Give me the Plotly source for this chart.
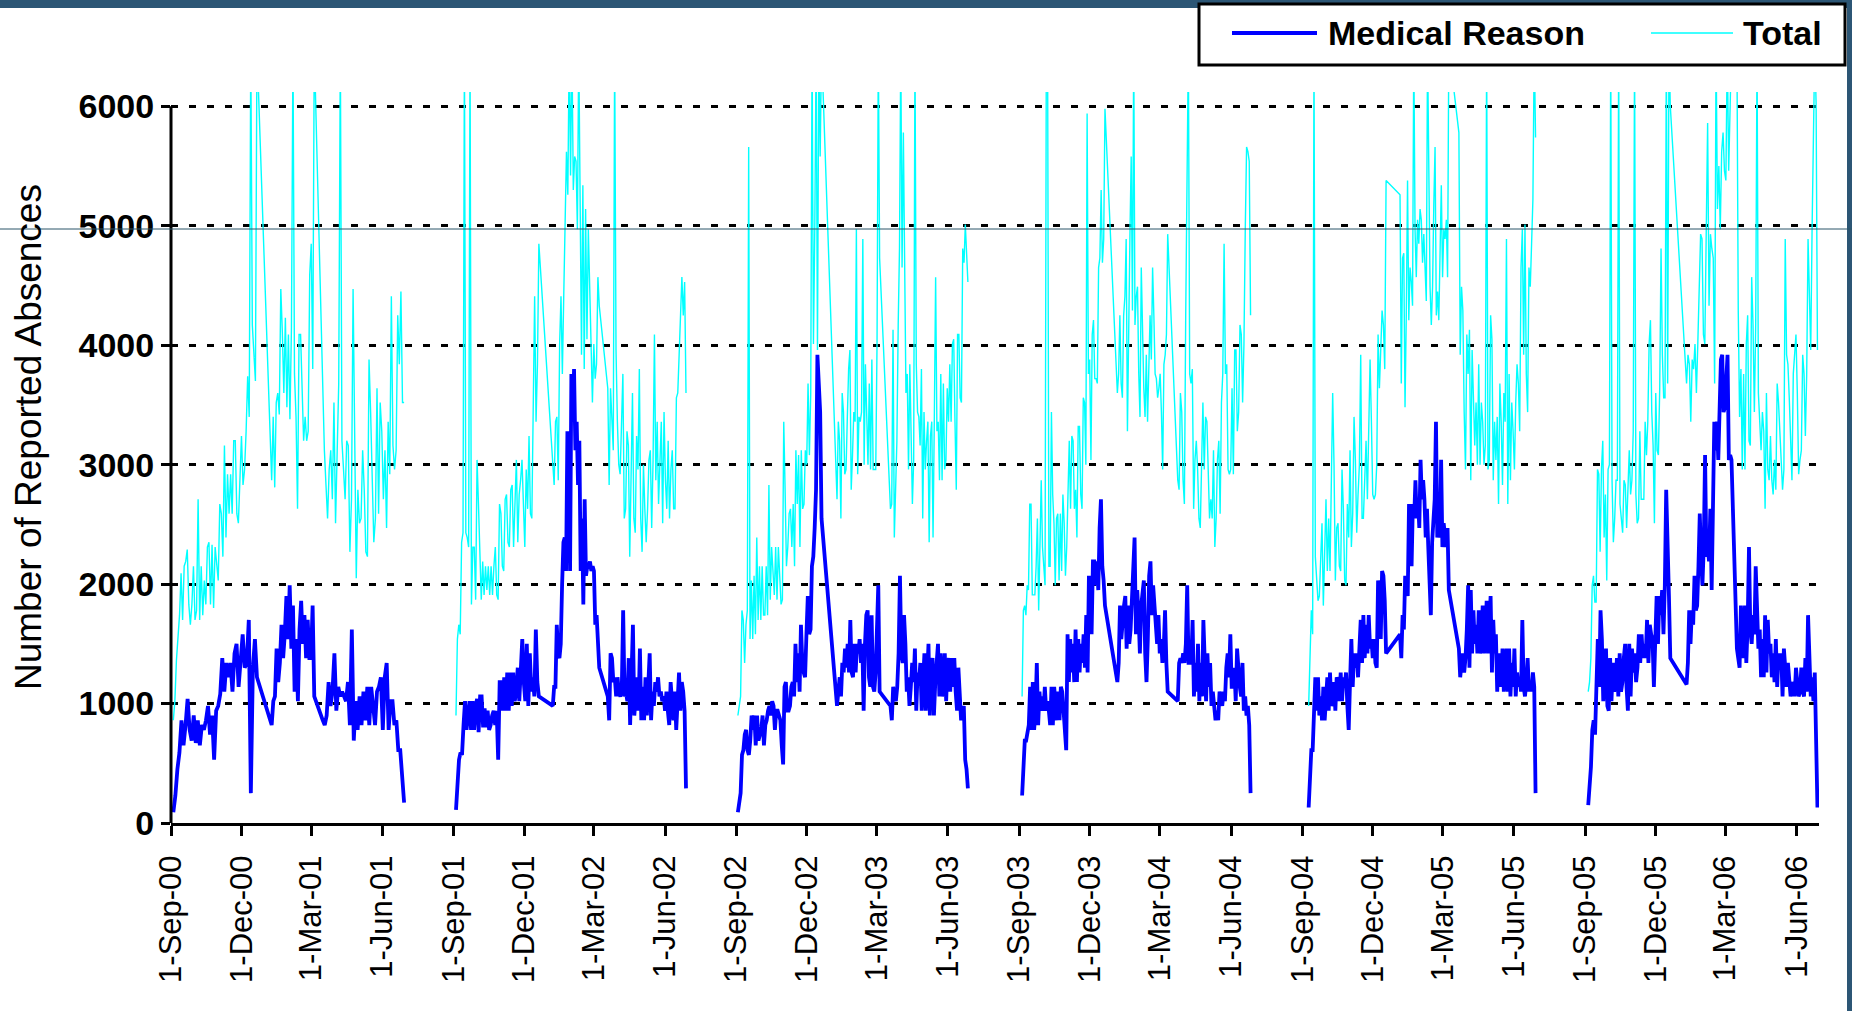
import pandas as pd
import plotly.graph_objects as go

# ---------------- data ----------------
# school-term date ranges (daily values spread over each term)
terms_2000 = [("2000-09-04", "2000-12-21"), ("2001-01-09", "2001-03-05"), ("2001-03-16", "2001-06-29")]
terms_2001 = [("2001-09-04", "2001-12-20"), ("2002-01-07", "2002-03-08"), ("2002-03-19", "2002-06-28")]
terms_2002 = [("2002-09-03", "2002-12-20"), ("2003-01-09", "2003-03-05"), ("2003-03-19", "2003-06-27")]
terms_2003 = [("2003-09-05", "2003-12-21"), ("2004-01-06", "2004-03-11"), ("2004-03-24", "2004-06-26")]
terms_2004 = [("2004-09-09", "2004-12-18"), ("2005-01-05", "2005-03-09"), ("2005-03-22", "2005-06-29")]
terms_2005 = [("2005-09-05", "2005-12-20"), ("2006-01-10", "2006-03-09"), ("2006-03-16", "2006-06-28")]

med_2000 = [
    [90,230,450,590,860,650,820,1040,780,690,900,670,860,650,820,780,860,980,740,900,530,940,980,1080,1380,1100,1340,1220,1340,1100,1420,1500,1140,1420,1580,1300,1340,1700,250,1300,1540,1220],
    [820,1020,1060,1460,1180,1340,1660,1380,1580,1900,1540,1990,1460,1820,1100,1540,1020,1620,1860,1500,1740,1380,1700,1380,1380,1820,1060],
    [860,820,900,1180,980,1100,1420,940,1140,1060,1100,1060,1020,1180,820,1620,690,1020,780,1060,820,1100,860,1140,820,1140,980,820,1100,1140,1220,780,1220,1340,780,1020,1020,820,860,610,610,330,170],
]
tot_2000 = [
    [860,1020,1360,1540,1740,2090,1700,2150,2190,2290,1830,1660,1830,2150,1700,1780,2710,1700,2150,1740,2030,1830,2310,2350,1830,2330,1800,2310,2190,2030,2670,2590,2230,3160,2390,2920,2590,2920,2590,3200,3200,2590,2510,2830,3240,2830,2960,3280,3740,3400,6500,4170,3960,3700,6500],
    [2870,3400,2810,3520,3600,3420,4470,4110,3600,4230,3480,4090,3380,4150,6500,3760,3400,2630,4090,4090,3520,3200,3400,3200,3280,4590,4850,3800,6500],
    [3560,3120,2830,2550,2960,3120,2710,3520,2510,3160,3680,6500,3200,2960,2710,3200,3160,2270,2710,4470,2960,2050,2790,2510,2550,3120,2790,2270,2230,3880,3440,2830,2350,2550,3640,2590,3520,3280,2710,3120,2470,3360,2920,4410,3160,2960,3120,4250,3840,4450,3520,3520],
]
med_2001 = [
    [110,410,530,590,570,820,1020,780,940,1020,780,1020,780,980,1040,760,1060,1060,800,960,800,940,780,820,900,940,820,940,530,1180,1180,940,1220,940,1260,940,1260,980,1260,1020,1100,1300,1020,1340,1540,1180,1020,1500,980,1420,1100,1220,1060,1620,1180,1060],
    [980,1140,1140,1660,1420,1380,1500,1990,2350,2390,2110,3280,3040,2110,3760,3360,3800,3120,3360,2830,3200,2110,2550,1830,2710,2070,2150,2150,2190,2110,2150,2110,1660,1740,1540,1300],
    [1060,860,1420,1380,1180,1220,1060,1220,1080,1060,1100,1780,1060,1100,1020,1380,820,1220,1660,900,1020,1220,940,1460,860,1140,860,1220,900,1100,1420,860,1100,980,1180,1100,1220,1060,1100,1020,1060,940,1100,940,820,1180,940,860,1100,780,1020,1260,940,1180,1100,940,290],
]
tot_2001 = [
    [900,1540,1660,1580,2350,2430,6500,2430,2390,2310,6500,1830,2310,2310,1870,3040,2670,2310,1870,2190,1910,2150,1950,2150,1910,2150,1910,2150,2310,1910,1870,2670,2590,2150,2110,2710,2750,2350,2310,2790,2830,2310,2750,3040,2350,2750,2870,3040,2670,2310,2960,2630,3240,2590,2550,3560,4410,3360,3840,4850],
    [2960,2830,3360,3400,2870,4010,4410,3760,4410,4970,5620,5260,6500,5420,6500,5300,5580,5540,4970,6500,5300,3920,5340,3800,5140,4050,4970,4570,4010,3520,4010,3720,3840,4570,4330],
    [3640,2830,3640,3360,3120,6500,3960,3360,3000,2920,3280,3760,2550,2630,3280,3160,2230,3080,3600,2550,2430,3240,2960,3800,2550,2270,3000,2630,2350,2630,3040,3120,2470,3040,4090,2870,3360,2670,3120,3360,2510,3440,2870,2630,3200,2550,2960,3120,2630,2630,3560,3600,3920,4210,4570,4250,4530,3600],
]
med_2002 = [
    [90,210,250,570,610,740,780,610,570,690,900,780,900,650,900,690,740,780,900,650,820,860,940,980,900,1020,980,780,940,940,900,860,650,490,1140,1180,940,940,980,1140,1180,1060,1500,1180,1420,1100,1660,1340,1260,1220,1580,1900,1580,1620,2150,2230,2470,2790,3920,3600,3440,2550],
    [980,1100,1220,1060,1340,1260,1460,1300,1500,1260,1700,1260,1220,1500,1260,1500,1420,1540,1340,1500,940,1500,1740,1780,1220,1140,1740,1140,1100,1260,1780,1990,1100],
    [980,860,1140,1060,1020,1140,1420,2070,1420,1340,1740,1500,1100,1220,980,1140,1340,1180,1460,940,1260,1180,1340,940,1300,1420,940,1220,1500,900,1340,1380,900,1180,1340,1500,1060,1420,1060,1140,1420,1020,1340,1380,1100,1380,1140,1380,1100,940,1300,1100,860,940,980,530,450,290],
]
tot_2002 = [
    [900,980,1060,1780,1700,1340,1660,1780,5660,1540,2030,1540,2070,1580,2390,1700,2150,1700,2150,1740,1740,2150,1740,2830,1870,2310,2150,1910,2310,1870,2310,2070,1830,1870,3360,2790,2150,2310,2590,2630,2310,2670,2150,3120,2670,3080,2310,3120,2630,2670,3120,3000,3680,3080,3600,6500,4010,4970,6500,3960,6500,5580,6500],
    [2710,3360,3200,2550,3600,3440,2920,2960,3400,3800,3960,2790,3080,3440,3360,4970,2920,3400,3360,3440,4890,3000,3840,3400,3000,3680,2960,3880,2960,2960,2960,4010,6500,4730],
    [2630,2670,4130,2390,2790,3200,4170,4810,6500,4650,5780,4370,3600,3760,2960,3840,3120,2670,3040,6500,3840,3440,3400,3160,3800,2550,3440,2960,3200,3360,2350,3240,3360,2390,3400,4570,3280,3360,2870,3760,2870,3680,2960,3040,3640,3360,3840,3360,4010,4050,3360,2790,4090,4090,3560,3520,4810,4690,5010,4810,4530],
]
med_2003 = [
    [230,410,690,690,740,820,1140,780,1180,780,940,1340,820,1100,940,1060,940,1140,940,1020,940,820,1140,820,1140,1020,860,1100,860,1140,1100,940,780,610,1580,1180,1540,1260,1500,1180,1620,1180,1540,1260,1500,1340,1580,1300,1740,1260,2070,1950,1580,2190,2190,1990,2190,1950,2470,2710,2150,2030,1820],
    [1180,1340,1820,1540,1740,1820,1900,1460,1820,1500,1620,1950,2150,2390,1580,1950,1740,1420,1820,1950,2030,1420,1180,1540,2070,2190,1740,1990,1780,1700,1500,1740,1420,1540,1340,1460,1780,1340,1100],
    [1020,1340,1380,1340,1420,1340,1500,1990,1340,1340,1340,1700,1060,1340,1100,1500,1020,1340,1060,1700,1340,1020,1420,1140,1340,980,1100,980,860,940,860,1100,1020,980,1100,1020,1300,1420,1220,1580,1140,1140,1300,1020,1460,1220,1140,1060,1340,940,1060,900,980,820,250],
]
tot_2003 = [
    [1060,1780,1820,1740,1990,1950,2670,2670,1910,1910,1910,2150,2550,1780,2430,2870,2310,2150,1990,6500,6500,2150,2150,3440,2750,2510,1990,2550,2590,2030,2590,2110,2750,2510,2070,2310,2670,3200,2630,3240,3200,2630,2790,2390,3320,3320,2750,2630,3560,3520,3000,5940,3760,3880,3040,4090,4210,3720,3720,3680,4650,4730,5300,4690,4890,5980],
    [3600,3760,4250,3680,3560,4250,4410,4890,3280,4330,4930,5580,4290,6500,4170,4410,4490,3760,3400,4650,3960,3640,3400,3920,3360,3800,4250,3880,4650,4250,3760,3720,3560,3640,3760,3440,2960,3840,3920,4090,4930],
    [2870,2790,3600,3440,2870,2670,4250,5140,6500,3760,3680,3800,2630,3040,3200,2960,2550,2470,3200,3520,2960,3400,3360,3040,2550,2710,2550,3120,2310,2550,3040,3200,2590,3520,3760,4850,3760,3840,2960,2920,2960,3640,2920,3960,3960,3280,3440,4170,4090,3520,4010,4970,5660,5620,5540,4250],
]
med_2004 = [
    [130,330,610,610,940,1220,940,1220,900,1060,860,1140,860,1020,1220,940,1260,980,1020,1180,940,1220,1180,1020,1260,1020,1220,1140,1260,980,780,1180,1540,1140,1420,1300,1420,1220,1460,1700,1340,1740,1380,1660,1420,1740,1460,1540,1380,1540,1340,1300,2030,1900,1540,2110,2070,1860,1420],
    [1580,1380,1740,1620,2070,1990,1900,2670,2470,2150,2670,2550,2870,2550,2710,2470,3040,2710,2870,2710,2390,2630,2310,1950,1740,2350,2550,2710,3360,2390,2550,2390,3040,2310,2510,2390,2310,2470,1950],
    [1460,1220,1340,1420,1260,1380,1620,1990,1300,1950,1420,1780,1500,1660,1420,1780,1420,1500,1820,1420,1540,1860,1420,1660,1900,1260,1700,1420,1580,1100,1420,1340,1140,1460,1100,1260,1460,1100,1460,1060,1340,1140,1460,1060,1260,1140,1220,1100,1700,1140,1060,1180,1380,1100,1180,1100,1260,1140,250],
]
tot_2004 = [
    [980,1300,1780,1580,6500,2230,1990,1860,1900,2150,2510,1820,2190,2710,2110,2550,2110,2960,3600,3000,2030,2470,2510,2150,2110,2960,2630,2030,1990,2670,2390,3120,2310,2590,3400,3040,2430,2750,3000,3920,2550,2550,2960,3200,2710,3280,3880,3360,2750,2710,2750,3000,4090,3640,4090,4290,4170,3800,5380],
    [5260,3680,4730,4770,3480,4250,5380,4210,4650,4530,4330,6500,4970,4570,5050,4850,5140,5050,4690,4930,4610,4370,6500,5260,4490,4170,4490,5180,5660,4250,4450,4210,4970,5340,4570,4970,4890,5050,4570,6500],
    [5780,3920,4490,4290,3440,2960,4090,3760,4130,2870,3960,3600,3160,3520,3000,3840,3000,3520,3360,3000,3160,6500,2960,3040,4250,4050,2870,3360,3040,3400,2670,3680,3360,2830,3600,3360,4890,2670,3760,2870,3520,3280,2960,3520,3840,3680,3280,4650,4970,3920,5010,3760,3440,4650,4490,4850,5220,6500,5740],
]
med_2005 = [
    [150,270,470,780,860,740,1100,1540,1140,1780,1540,1020,1220,1460,980,940,1380,1020,1340,1100,1180,1380,1060,1420,1100,1180,1380,1500,1140,940,1500,1060,1460,1260,1420,1180,1300,1580,1340,1580,1380,1500,1380,1700,1340,1660,1580,1540,1140,1540,1900,1500,1900,1740,1950,1580,1990,2790,2150,1900,1380],
    [1160,1340,1780,1500,1780,1660,2070,1780,1820,2150,2590,2230,1990,2310,3080,2230,2310,2190,2630,1950,2630,3360,3120,3360,3040,3520,3880,3920,3440,3480,3800,3920,3040,3080,3040],
    [1460,1380,1300,1820,1540,1380,1820,1340,1660,2310,1620,1500,1740,1580,2150,1700,1460,1620,1220,1540,1220,1740,1260,1700,1420,1500,1220,1420,1180,1540,1140,1420,1300,1420,1060,1460,1260,1140,1340,1220,1060,1140,1180,1060,1300,1180,1060,1100,1300,1100,1060,1380,1100,1740,1380,1060,1220,1020,1260,530,130],
]
tot_2005 = [
    [1100,1180,1380,1990,2070,1850,1850,2960,2920,2270,2960,3200,2390,2750,2030,2960,3000,6500,2870,2350,2550,2870,2870,6500,2670,2510,2430,2870,2830,2470,2830,3120,2750,2870,3280,6500,2750,2510,2550,3280,2710,2710,2710,3360,3080,3360,4010,4210,3440,3160,2510,3600,3120,3080,3640,4810,3920,3560,3560,6500,3680,6500,6000],
    [3680,3920,3840,3360,3880,3800,4010,3600,4010,4490,4930,4890,4090,4010,4890,5860,4330,4930,4810,4730,3680,6500,5140,5500,4970,5620,5780,5460,5380,6500,5460,6060,6500],
    [6500,4290,3400,3800,2960,3760,2960,4010,4250,3200,3160,4570,4170,3440,4170,6500,3600,3360,3120,3440,3280,2630,3600,2960,2870,3240,2870,2750,3040,2790,3680,3520,3280,3120,2790,2960,4890,3920,3840,3560,3240,2870,3760,3920,4090,3600,2920,3040,3120,3920,3760,3240,3760,4890,4410,3960,4970,6060,6500,6020,3960],
]

terms_all = [terms_2000, terms_2001, terms_2002, terms_2003, terms_2004, terms_2005]
med_all = [med_2000, med_2001, med_2002, med_2003, med_2004, med_2005]
tot_all = [tot_2000, tot_2001, tot_2002, tot_2003, tot_2004, tot_2005]

tick_dates = ["2000-09-01", "2000-12-01", "2001-03-01", "2001-06-01",
              "2001-09-01", "2001-12-01", "2002-03-01", "2002-06-01",
              "2002-09-01", "2002-12-01", "2003-03-01", "2003-06-01",
              "2003-09-01", "2003-12-01", "2004-03-01", "2004-06-01",
              "2004-09-01", "2004-12-01", "2005-03-01", "2005-06-01",
              "2005-09-01", "2005-12-01", "2006-03-01", "2006-06-01"]
tick_labels = ["1-Sep-00", "1-Dec-00", "1-Mar-01", "1-Jun-01",
               "1-Sep-01", "1-Dec-01", "1-Mar-02", "1-Jun-02",
               "1-Sep-02", "1-Dec-02", "1-Mar-03", "1-Jun-03",
               "1-Sep-03", "1-Dec-03", "1-Mar-04", "1-Jun-04",
               "1-Sep-04", "1-Dec-04", "1-Mar-05", "1-Jun-05",
               "1-Sep-05", "1-Dec-05", "1-Mar-06", "1-Jun-06"]
y_ticks = [0, 1000, 2000, 3000, 4000, 5000, 6000]


def build(series_all):
    xs, ys = [], []
    for terms, segs in zip(terms_all, series_all):
        for (a, b), vals in zip(terms, segs):
            d = pd.date_range(a, b, periods=len(vals))
            xs += list(d)
            ys += list(vals)
        xs.append(None)
        ys.append(None)
    return xs, ys


mx, my = build(med_all)
tx, ty = build(tot_all)

# ---------------- layout geometry ----------------
W, H = 1852, 1011
L, R, T, B = 171, 33, 92, 188
PW, PH = W - L - R, H - T - B


def px(x):
    return (x - L) / PW


def py(y):
    return (H - B - y) / PH


FONT = "Liberation Sans, Arial, sans-serif"

fig = go.Figure()
fig.add_trace(go.Scatter(x=tx, y=ty, mode="lines", name="Total",
                         line=dict(color="#00FFFF", width=1.4), connectgaps=False,
                         showlegend=False))
fig.add_trace(go.Scatter(x=mx, y=my, mode="lines", name="Medical Reason",
                         line=dict(color="#0000FF", width=3.8), connectgaps=False,
                         showlegend=False))

fig.update_layout(
    width=W, height=H,
    margin=dict(l=L, r=R, t=T, b=B, pad=0),
    paper_bgcolor="white", plot_bgcolor="white",
    font=dict(family=FONT, color="black"),
    showlegend=False,
)
fig.update_xaxes(
    type="date", range=["2000-09-01", "2006-06-30"],
    tickvals=tick_dates, ticktext=tick_labels, tickangle=-90,
    tickfont=dict(family=FONT, size=31, color="black"),
    ticks="outside", ticklen=10, tickwidth=3, tickcolor="black",
    ticklabelstandoff=7,
    showline=True, linewidth=3, linecolor="black",
    showgrid=False, zeroline=False,
)
fig.update_yaxes(
    range=[0, 6120], tickvals=y_ticks, ticktext=[str(v) for v in y_ticks],
    tickfont=dict(family=FONT, size=34, color="black", weight="bold"),
    ticks="outside", ticklen=9, tickwidth=3, tickcolor="black",
    showline=False,
    showgrid=True, gridcolor="black", gridwidth=2.5, griddash="7px,11px",
    zeroline=False,
)

shapes = []
# y axis line (stops at the 6000 tick)
shapes.append(dict(type="line", xref="paper", yref="y", x0=0, x1=0, y0=0, y1=6000,
                   line=dict(color="black", width=3), layer="above"))
# background decoration (slide frame)
shapes.append(dict(type="rect", xref="paper", yref="paper", x0=px(0), x1=px(W), y0=py(8), y1=py(0),
                   fillcolor="#2c5675", line=dict(width=0), layer="below"))
shapes.append(dict(type="rect", xref="paper", yref="paper", x0=px(1847), x1=px(W), y0=py(H), y1=py(0),
                   fillcolor="#2c5675", line=dict(width=0), layer="below"))
shapes.append(dict(type="line", xref="paper", yref="paper", x0=px(0), x1=px(W), y0=py(229), y1=py(229),
                   line=dict(color="#2a5468", width=1), layer="above"))
# legend box
shapes.append(dict(type="rect", xref="paper", yref="paper", x0=px(1199), x1=px(1845), y0=py(65), y1=py(4),
                   fillcolor="white", line=dict(color="black", width=3), layer="above"))
shapes.append(dict(type="line", xref="paper", yref="paper", x0=px(1232), x1=px(1317), y0=py(33), y1=py(33),
                   line=dict(color="#0000FF", width=3.8), layer="above"))
shapes.append(dict(type="line", xref="paper", yref="paper", x0=px(1651), x1=px(1733), y0=py(33), y1=py(33),
                   line=dict(color="#00FFFF", width=1.6), layer="above"))
fig.update_layout(shapes=shapes)

annotations = [
    dict(xref="paper", yref="paper", x=px(1326), y=py(33), text="Medical Reason", showarrow=False,
         xanchor="left", yanchor="middle", font=dict(family=FONT, size=34, color="black", weight="bold")),
    dict(xref="paper", yref="paper", x=px(1741), y=py(33), text="Total", showarrow=False,
         xanchor="left", yanchor="middle", font=dict(family=FONT, size=34, color="black", weight="bold")),
    dict(xref="paper", yref="paper", x=px(28), y=py(437), text="Number of Reported Absences",
         showarrow=False, textangle=-90, xanchor="center", yanchor="middle",
         font=dict(family=FONT, size=37, color="black")),
]
fig.update_layout(annotations=annotations)

fig.write_html("out.html", config={"displayModeBar": False},
               post_script="document.body.style.margin='0';document.body.style.overflow='hidden';")
